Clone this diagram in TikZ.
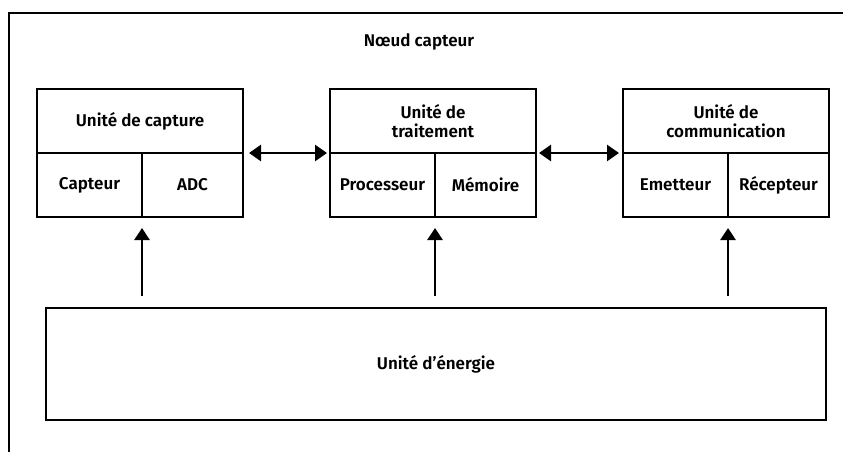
\documentclass[tikz,border=0pt]{standalone}
\usepackage{fontspec}
\setmainfont{Fira Sans}[BoldFont={Fira Sans SemiBold}]
\usetikzlibrary{positioning}
\usetikzlibrary{arrows.meta}
\tikzset{part/.style={draw,line width=1.9pt,inner sep=0pt,outer sep=0pt,
                      minimum height=64pt,align=center,
                      font=\bfseries\fontsize{17}{19.5}\selectfont},
         unit/.style={part,minimum width=206pt},
         half/.style={part,minimum width=105pt},
         rest/.style={part,minimum width=101pt},
         duplex/.style={line width=2.6pt,{Triangle[length=12pt,width=16pt]}-{Triangle[length=12pt,width=16pt]}},
         feed/.style={line width=2.8pt,-{Triangle[length=12pt,width=15pt]},shorten <=12pt,shorten >=11pt},
         }
\begin{document}
\begin{tikzpicture}[x=1pt,y=-1pt]
\useasboundingbox (0,0) rectangle (843,452);
% cadre du noeud
\draw[line width=1.9pt] (843,13) -| (9,452);
\node[font=\bfseries\fontsize{17}{19.5}\selectfont] (noeud) at (419,42) {Nœud capteur};
% les trois unites
\node[unit] (capture) at (140,121) {Unité de capture};
\node[half,below=0pt of capture.south west,anchor=north west] (capteur) {Capteur};
\node[rest,below=0pt of capture.south east,anchor=north east] (adc) {ADC};
\node[unit] (traitement) at (433,121) {Unité de\\traitement};
\node[half,below=0pt of traitement.south west,anchor=north west] (processeur) {Processeur};
\node[rest,below=0pt of traitement.south east,anchor=north east] (memoire) {Mémoire};
\node[unit] (communication) at (726,121) {Unité de\\communication};
\node[half,below=0pt of communication.south west,anchor=north west] (emetteur) {Emetteur};
\node[rest,below=0pt of communication.south east,anchor=north east] (recepteur) {Récepteur};
% energie
\node[part,minimum width=780pt,minimum height=112pt] (energie) at (436,364) {Unité d’énergie};
% liaisons
\draw[duplex] ([xshift=6pt]capture.south east) -- ([xshift=-3pt]traitement.south west);
\draw[duplex] ([xshift=3pt]traitement.south east) -- ([xshift=-4pt]communication.south west);
\draw[feed] (energie.north -| capteur.south east) -- (capteur.south east);
\draw[feed] (energie.north -| processeur.south east) -- (processeur.south east);
\draw[feed] (energie.north -| emetteur.south east) -- (emetteur.south east);
\end{tikzpicture}
\end{document}
